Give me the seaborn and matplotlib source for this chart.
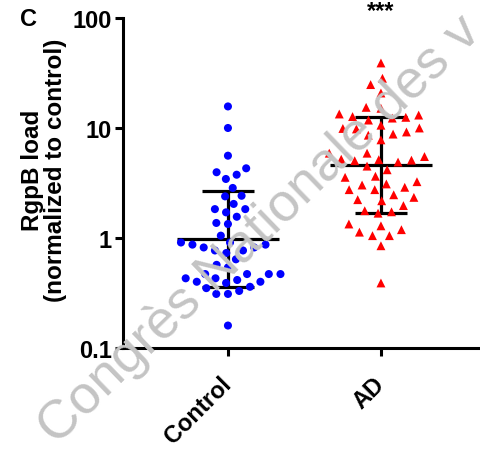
import numpy as np
import pandas as pd
import matplotlib
matplotlib.use('Agg')
import matplotlib.pyplot as plt
import seaborn as sns

# 데이터
groups = ['Control', 'AD']

control_vals = [15.7, 10.0, 5.6, 4.3, 3.76, 3.96, 3.44, 2.85, 2.39, 2.42, 2.04, 1.83,
                1.83, 1.56, 1.71, 1.34, 1.37, 1.05, 0.91, 0.87, 0.82, 0.77, 0.73, 0.77,
                0.82, 0.87, 0.91, 0.64, 0.57, 0.54, 0.47, 0.47, 0.43, 0.415, 0.43, 0.47,
                0.47, 0.40, 0.39, 0.35, 0.31, 0.31, 0.33, 0.36, 0.40, 0.16]

ad_vals = [39.0, 28.3, 24.8, 20.8, 15.1, 15.4, 13.1, 12.5, 11.8, 10.6, 12.3, 12.7,
           13.4, 10.0, 9.8, 8.8, 8.6, 9.2, 9.9, 7.8, 5.9, 5.9, 5.5, 5.15, 4.9, 5.04,
           5.1, 5.2, 4.5, 4.17, 3.64, 3.56, 3.25, 3.03, 3.1, 2.75, 2.75, 2.89, 2.47,
           2.34, 2.18, 2.23, 1.97, 1.73, 1.68, 1.77, 1.34, 1.29, 1.19, 1.13, 1.05,
           1.05, 0.85, 0.39]

# 기하평균 및 SD 범위
group_mean = [0.98, 4.6]
group_sd_low = [0.36, 1.69]
group_sd_high = [2.7, 12.7]

y_ticks = [0.1, 1, 10, 100]
y_ticklabels = ['0.1', '1', '10', '100']

df = pd.DataFrame({
    'group': ['Control'] * len(control_vals) + ['AD'] * len(ad_vals),
    'value': control_vals + ad_vals,
})

plt.rcParams['font.family'] = ['Liberation Sans', 'DejaVu Sans']
plt.rcParams['font.weight'] = 'bold'

fig = plt.figure(figsize=(4.81, 4.52), dpi=100)
ax = fig.add_axes([0.2557, 0.2279, 0.7443, 0.7301])
ax.set_yscale('log')
ax.set_ylim(0.1, 100)

# 워터마크
fig.text(0.54, 0.49, 'Congrès Nationale des v', fontsize=39, color='#c4c4c4',
         rotation=44, ha='center', va='center', fontweight='normal', zorder=0)

# linewidth는 점 간격용 (테두리는 안 그림)
sns.swarmplot(data=df[df['group'] == 'Control'], x='group', y='value', order=groups,
              color='blue', marker='o', size=5.8, linewidth=2.2, edgecolor='none',
              ax=ax, zorder=3)
sns.swarmplot(data=df[df['group'] == 'AD'], x='group', y='value', order=groups,
              color='red', marker='^', size=6.4, linewidth=2.9, edgecolor='none',
              ax=ax, zorder=3)

# 평균 ± SD
for i in range(len(groups)):
    ax.hlines(group_mean[i], i - 0.335, i + 0.335, color='black', lw=2.3, zorder=2)
    ax.hlines([group_sd_low[i], group_sd_high[i]], i - 0.17, i + 0.17, color='black', lw=2.3, zorder=2)
    ax.vlines(i, group_sd_low[i], group_sd_high[i], color='black', lw=2.3, zorder=2)

ax.set_xlim(-0.686, 1.654)
ax.set_yticks(y_ticks)
ax.set_yticklabels(y_ticklabels)
ax.yaxis.set_minor_locator(matplotlib.ticker.NullLocator())
ax.set_xlabel('')
ax.set_ylabel('')

for side in ['top', 'right']:
    ax.spines[side].set_visible(False)
for side in ['left', 'bottom']:
    ax.spines[side].set_linewidth(2.2)

ax.tick_params(axis='both', width=2.2, length=6, labelsize=17, colors='black')
ax.tick_params(axis='y', pad=2)
ax.tick_params(axis='x', pad=17)
plt.setp(ax.get_xticklabels(), rotation=45, ha='right', va='center',
         rotation_mode='anchor', fontweight='bold')
plt.setp(ax.get_yticklabels(), fontweight='bold')

fig.text(44 / 481, 1 - 170 / 452, 'RgpB load\n(normalized to control)', rotation=90,
         ha='center', va='center', multialignment='center', fontsize=17.5,
         fontweight='bold', linespacing=1.0)
fig.text(29 / 481, 1 - 20 / 452, 'C', ha='center', va='center', fontsize=17,
         fontweight='bold')
ax.text(1, 1.022, '***', transform=ax.get_xaxis_transform(), ha='center', va='center',
        fontsize=17, fontweight='bold', clip_on=False)

fig.savefig('out.png', dpi=100)
